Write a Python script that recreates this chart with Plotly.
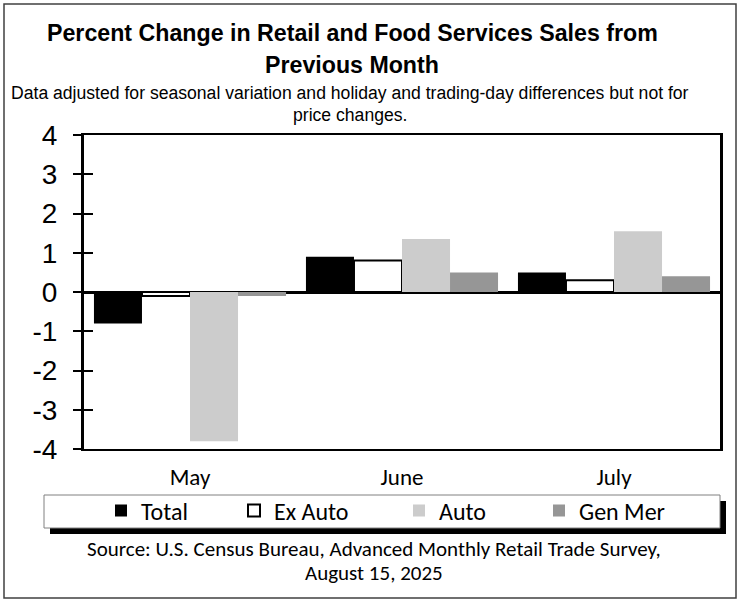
import plotly.graph_objects as go

months = ["May", "June", "July"]
total = [-0.8, 0.9, 0.5]
ex_auto = [-0.1, 0.8, 0.3]
auto = [-3.8, 1.35, 1.55]
gen_mer = [-0.1, 0.5, 0.4]
tick_vals = [-4, -3, -2, -1, 0, 1, 2, 3, 4]
tick_text = ["-4", "-3", "-2", "-1", "0", "1", "2", "3", "4"]

W, H = 738, 602
L, R, T, B = 84, 18, 135, 153
PW, PH = W - L - R, H - T - B


def px(x):
    return (x - L) / PW


def py(y):
    return (H - B - y) / PH


ARIAL = "Liberation Sans, Arial, sans-serif"
CAL = "Carlito, Lato, sans-serif"

fig = go.Figure()
fig.add_bar(x=months, y=total, name="Total", marker=dict(color="#000000", line=dict(width=0)), legend="legend")
fig.add_bar(x=months, y=ex_auto, name="Ex Auto", marker=dict(color="#ffffff", line=dict(color="#000000", width=2)), legend="legend2")
fig.add_bar(x=months, y=auto, name="Auto", marker=dict(color="#cccccc", line=dict(width=0)), legend="legend3")
fig.add_bar(x=months, y=gen_mer, name="Gen Mer", marker=dict(color="#969696", line=dict(width=0)), legend="legend4")
# invisible helper so the overlaid tick axis (inner half of the crossing ticks) is drawn
fig.add_scatter(x=months, y=total, yaxis="y2", mode="markers", marker=dict(opacity=0),
                showlegend=False, hoverinfo="skip")

leg_common = dict(orientation="h", bgcolor="rgba(0,0,0,0)", borderwidth=0,
                  font=dict(family=CAL, size=24, color="#000"), yanchor="middle", xanchor="left",
                  y=py(511))

shapes = [
    dict(type="rect", xref="paper", yref="paper", x0=px(4), x1=px(736), y0=py(598), y1=py(4),
         line=dict(color="#404040", width=1.5), fillcolor="rgba(0,0,0,0)", layer="below"),
    dict(type="rect", xref="paper", yref="paper", x0=px(50), x1=px(726), y0=py(534), y1=py(501),
         line=dict(width=0), fillcolor="#000000"),
    dict(type="rect", xref="paper", yref="paper", x0=px(44), x1=px(720), y0=py(528), y1=py(495),
         line=dict(color="#808080", width=1), fillcolor="#ffffff"),
]

annotations = [
    dict(text="<b>Percent Change in Retail and Food Services Sales from</b>", x=px(352), y=py(33)),
    dict(text="<b>Previous Month</b>", x=px(352), y=py(65)),
]
for a in annotations:
    a.update(font=dict(family=ARIAL, size=23.2, color="#000"))
sub = [
    dict(text="Data adjusted for seasonal variation and holiday and trading-day differences but not for",
         x=px(350), y=py(93)),
    dict(text="price changes.", x=px(350), y=py(115)),
]
for a in sub:
    a.update(font=dict(family=ARIAL, size=17.6, color="#000"))
src = [
    dict(text="Source: U.S. Census Bureau, Advanced Monthly Retail Trade Survey,", x=px(374), y=py(549)),
    dict(text="August 15, 2025", x=px(374), y=py(573)),
]
for a in src:
    a.update(font=dict(family=CAL, size=21, color="#000"))
annotations = annotations + sub + src
for a in annotations:
    a.update(xref="paper", yref="paper", showarrow=False, xanchor="center", yanchor="middle")

fig.update_layout(
    width=W, height=H,
    margin=dict(l=L, r=R, t=T, b=B, pad=0),
    paper_bgcolor="#ffffff", plot_bgcolor="#ffffff",
    barmode="group", bargap=0.094, bargroupgap=0,
    showlegend=True,
    legend=dict(leg_common, x=px(124 - 23)),
    legend2=dict(leg_common, x=px(257 - 23)),
    legend3=dict(leg_common, x=px(422 - 23)),
    legend4=dict(leg_common, x=px(562 - 23)),
    xaxis=dict(showline=True, linecolor="#000", linewidth=2, mirror=True, ticks="",
               tickfont=dict(family=CAL, size=23, color="#000"), ticklabelstandoff=6,
               showgrid=False, zeroline=False),
    yaxis=dict(range=[-4, 4], tickvals=tick_vals, ticktext=tick_text, showline=True, linecolor="#000",
               linewidth=3, mirror=True, ticks="outside", ticklen=8, tickwidth=2, tickcolor="#000",
               tickfont=dict(family=ARIAL, size=28, color="#000"), ticklabelstandoff=10,
               showgrid=False, zeroline=True, zerolinecolor="#000", zerolinewidth=3,
               layer="above traces"),
    yaxis2=dict(range=[-4, 4], overlaying="y", side="left", tickvals=tick_vals, ticks="inside",
                ticklen=9, tickwidth=2, tickcolor="#000", showticklabels=False, showgrid=False,
                zeroline=False, showline=False),
    shapes=shapes,
    annotations=annotations,
)

fig.write_html("out.html", config={"displayModeBar": False},
               post_script="document.body.style.margin='0';")
